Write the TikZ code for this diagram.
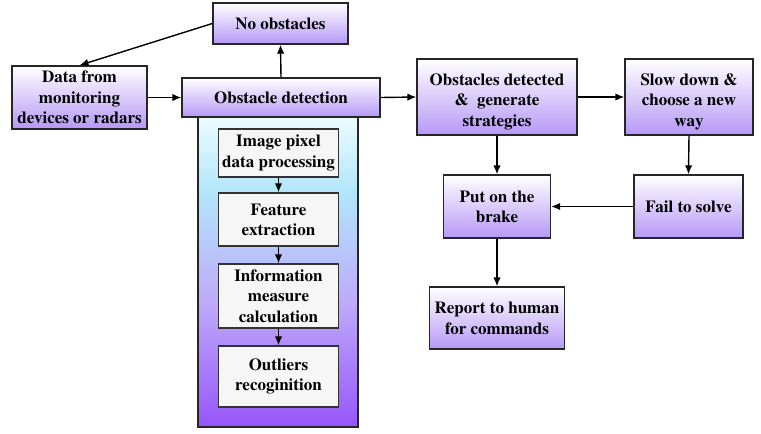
\documentclass[tikz,border=0pt]{standalone}
\usepackage[T1]{fontenc}
\usepackage{times}
\usetikzlibrary{shadings,arrows.meta}

\definecolor{boxpurple}{RGB}{182,152,246}
\definecolor{paneltop}{RGB}{236,252,255}
\definecolor{panelmid}{RGB}{178,230,250}
\definecolor{panellav}{RGB}{190,170,250}
\definecolor{panelbot}{RGB}{150,85,250}
\definecolor{innergray}{RGB}{246,246,246}
\pgfdeclareverticalshading{panelfill}{100bp}{color(0bp)=(panelbot); color(25bp)=(panelbot); color(45bp)=(panellav); color(63bp)=(panelmid); color(75bp)=(paneltop); color(100bp)=(paneltop)}

\tikzset{
  box/.style={draw=black!85,line width=1.4pt,shade,top color=white,bottom color=boxpurple,
    align=center,inner sep=0pt,font=\bfseries\fontsize{17}{20.5}\selectfont},
  inner/.style={draw=black!80,line width=1.4pt,fill=innergray,minimum width=120pt,
    align=center,inner sep=0pt,font=\bfseries\fontsize{17}{20.5}\selectfont},
  panel/.style={draw=black!85,line width=1.4pt,shading=panelfill,inner sep=0pt},
  arr/.style={-{Latex[length=9pt,width=7.5pt]},line width=1.4pt}
}

\begin{document}
\begin{tikzpicture}[x=1pt,y=-1pt]
      \useasboundingbox (0,0) rectangle (761,434);

      % detection steps
      \node[panel,minimum width=160pt,minimum height=310pt] (panel) at (278,272) {};
      \node[inner,minimum height=48pt] (pixel) at (278.5,153) {Image pixel\\data processing};
      \node[inner,minimum height=53pt] (feat) at (278.5,219.5) {Feature\\extraction};
      \node[inner,minimum height=64pt] (info) at (278.5,296) {Information\\measure\\calculation};
      \node[inner,minimum height=61pt] (outl) at (278.5,376.5) {Outliers\\recoginition};

      \node[box,minimum width=135pt,minimum height=41pt] (nobst) at (280.5,23.5) {No obstacles};
      \node[box,minimum width=135pt,minimum height=63pt] (data) at (79.5,97.5) {Data from\\monitoring\\devices or radars};
      \node[box,minimum width=198pt,minimum height=39pt] (detect) at (281,97.5) {Obstacle detection};
      \node[box,minimum width=160pt,minimum height=76pt] (obst) at (497,97) {\rule{0pt}{21pt}Obstacles detected\\\&\ \ generate\\strategies};
      \node[box,minimum width=128pt,minimum height=76pt] (slow) at (689,97) {\rule{0pt}{21pt}Slow down \&\\choose a new\\way};
      \node[box,minimum width=107pt,minimum height=63pt] (brake) at (497,206.5) {Put on the\\brake};
      \node[box,minimum width=109pt,minimum height=63pt] (fail) at (688.5,206.5) {Fail to solve};
      \node[box,minimum width=135pt,minimum height=62pt] (report) at (497,318) {Report to human\\for commands};

      \draw[arr] (nobst.west) -- (data.north);
      \draw[arr] (detect.north) -- (nobst.south);
      \draw[arr] (data.east) -- (detect.west);
      \draw[arr] (detect.east) -- (obst.west);
      \draw[arr] (obst.east) -- (slow.west);
      \draw[arr] (obst.south) -- (brake.north);
      \draw[arr] (slow.south) -- (fail.north);
      \draw[arr] (fail.west) -- (brake.east);
      \draw[arr] (brake.south) -- (report.north);

      \draw[arr] (pixel.south) -- (feat.north);
      \draw[arr] (feat.south) -- (info.north);
      \draw[arr] (info.south) -- (outl.north);

\end{tikzpicture}
\end{document}
